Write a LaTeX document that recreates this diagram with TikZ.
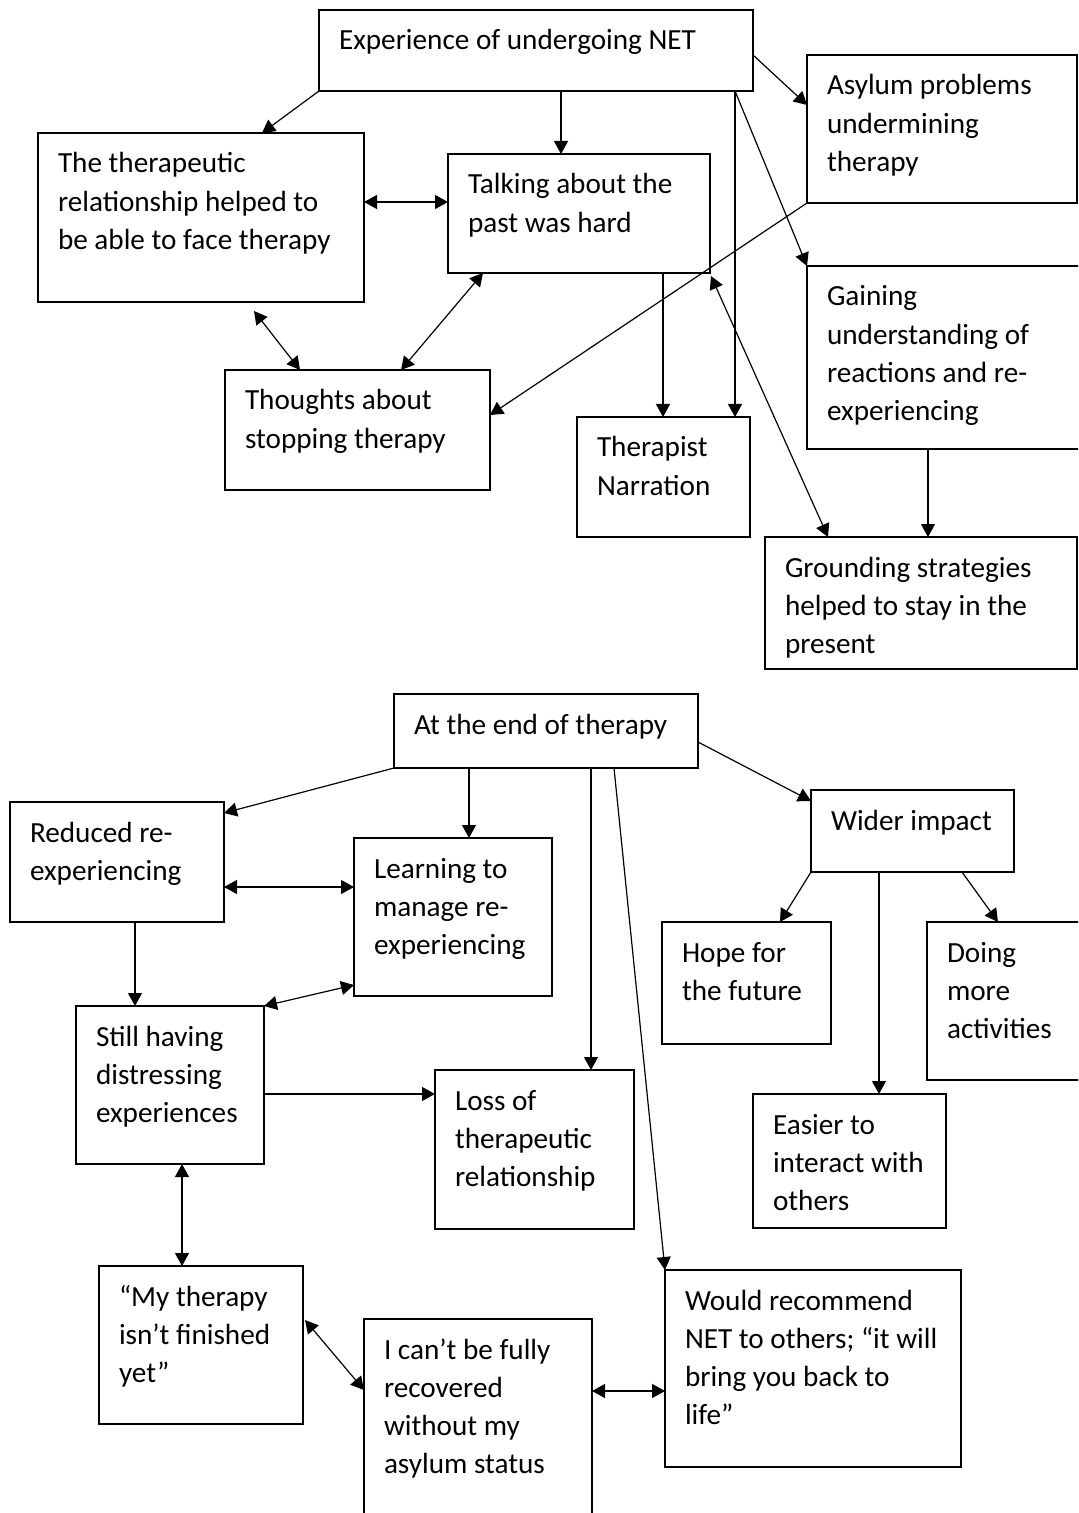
\documentclass[tikz,border=0pt]{standalone}
\usepackage{fontspec}
\setmainfont{Carlito}
\usetikzlibrary{calc,arrows.meta}
\hyphenpenalty=10000
\exhyphenpenalty=10000

\begin{document}
\begin{tikzpicture}[x=0.5pt,y=-0.5pt,line width=0.6pt,
  >={Triangle[length=6.5pt,width=7pt]},
  box/.style={draw,line width=0.8pt,anchor=north west,
    execute at begin node={\raggedright\spaceskip=3.3pt plus 1pt minus 0.5pt\relax},
    inner xsep=10pt,inner ysep=0pt,outer sep=0pt,text height=20pt,
    font=\fontsize{14.6pt}{19.1pt}\selectfont}]
\useasboundingbox (0,0) rectangle (1078,1513);
\clip (0,0) rectangle (1078,1513);

\node[box,text width=197pt,text depth=20.5pt] (exp) at (319,10) {Experience of undergoing NET};
\node[box,text width=115pt,text depth=54pt] (asyl) at (807,55) {Asylum problems\\undermining\\therapy};
\node[box,text width=130pt,text depth=71.5pt] (gain) at (807,266) {Gaining\\understanding of\\reactions and re-\\experiencing};
\node[box,text width=136pt,text depth=46pt] (grnd) at (765,537) {Grounding strategies\\helped to stay in the\\present};
\node[box,text width=143pt,text depth=64.5pt] (ther) at (38,133) {The therapeutic\\relationship helped to\\be able to face therapy};
\node[box,text width=111pt,text depth=39.5pt] (talk) at (448,154) {Talking about the\\past was hard};
\node[box,text width=112.5pt,text depth=40pt] (thou) at (225,370) {Thoughts about\\stopping therapy};
\node[box,text width=66.5pt,text depth=40pt] (narr) at (577,417) {Therapist\\Narration};

\draw[->] (exp.south west) -- ($(ther.north west)+(224,0)$);
\draw[->] ($(exp.south west)+(242,0)$) -- ($(talk.north west)+(113,0)$);
\draw[->] ($(exp.north east)+(0,45)$) -- ($(asyl.north west)+(0,50)$);
\draw[->] ($(exp.south west)+(416,0)$) -- ($(narr.north west)+(158,0)$);
\draw[->] ($(exp.south west)+(416,0)$) -- (gain.north west);
\draw[<->] ($(ther.north east)+(0,69)$) -- ($(talk.north west)+(0,48)$);
\draw[<->] ($(ther.south west)+(216,9)$) -- ($(thou.north west)+(75,0)$);
\draw[<->] ($(talk.south west)+(35,0)$) -- ($(thou.north west)+(176,0)$);
\draw[->] ($(talk.south west)+(215,0)$) -- ($(narr.north west)+(86,0)$);
\draw[->] (asyl.south west) -- ($(thou.north east)+(0,45)$);
\draw[<->] ($(talk.south east)+(1,3)$) -- ($(grnd.north west)+(63,0)$);
\draw[->] ($(gain.south west)+(121,0)$) -- ($(grnd.north west)+(163,0)$);

\node[box,text width=132pt,text depth=17pt] (end) at (394,694) {At the end of therapy};
\node[box,text width=87pt,text depth=40pt] (red) at (10,802) {Reduced re-\\experiencing};
\node[box,text width=79pt,text depth=59pt] (lrn) at (354,838) {Learning to\\manage re-\\experiencing};
\node[box,text width=74pt,text depth=59pt] (still) at (76,1006) {Still having\\distressing\\experiences};
\node[box,text width=79.5pt,text depth=59.5pt] (loss) at (435,1070) {Loss of\\therapeutic\\relationship};
\node[box,text width=81.5pt,text depth=21pt] (wide) at (811,790) {Wider impact};
\node[box,text width=64.5pt,text depth=41pt] (hope) at (662,922) {Hope for\\the future};
\node[box,text width=80pt,text depth=59pt] (doing) at (927,922) {Doing\\more\\activities};
\node[box,text width=76.5pt,text depth=47pt] (easy) at (753,1094) {Easier to\\interact~with\\others};
\node[box,text width=82pt,text depth=59pt] (myth) at (99,1266) {“My therapy\\isn’t finished\\yet”};
\node[box,text width=94pt,text depth=95pt] (cant) at (364,1319) {I can’t be fully\\recovered\\without my\\asylum status};
\node[box,text width=128pt,text depth=78.5pt] (recm) at (665,1270) {Would recommend\\NET to others; “it will\\bring you back to\\life”};

\draw[->] (end.south west) -- ($(red.north east)+(0,11)$);
\draw[->] ($(end.south west)+(75,0)$) -- ($(lrn.north west)+(115,0)$);
\draw[->] ($(end.south west)+(197,0)$) -- ($(loss.north west)+(156,0)$);
\draw[->] ($(end.south west)+(220,0)$) -- (recm.north west);
\draw[->] ($(end.north east)+(0,48)$) -- ($(wide.north west)+(0,11)$);
\draw[<->] ($(red.north east)+(0,85)$) -- ($(lrn.north west)+(0,49)$);
\draw[->] ($(red.south west)+(125,0)$) -- ($(still.north west)+(59,0)$);
\draw[<->] ($(lrn.north west)+(0,147)$) -- (still.north east);
\draw[->] ($(still.north east)+(0,88)$) -- ($(loss.north west)+(0,24)$);
\draw[<->] ($(still.south west)+(106,0)$) -- ($(myth.north west)+(83,0)$);
\draw[<->] ($(myth.north east)+(2,54)$) -- ($(cant.north west)+(0,71)$);
\draw[<->] ($(cant.north east)+(0,72)$) -- ($(recm.north west)+(0,121)$);
\draw[->] (wide.south west) -- ($(hope.north west)+(118,0)$);
\draw[->] ($(wide.south west)+(68,0)$) -- ($(easy.north west)+(126,0)$);
\draw[->] ($(wide.south west)+(151,0)$) -- ($(doing.north west)+(71,0)$);
\end{tikzpicture}
\end{document}
